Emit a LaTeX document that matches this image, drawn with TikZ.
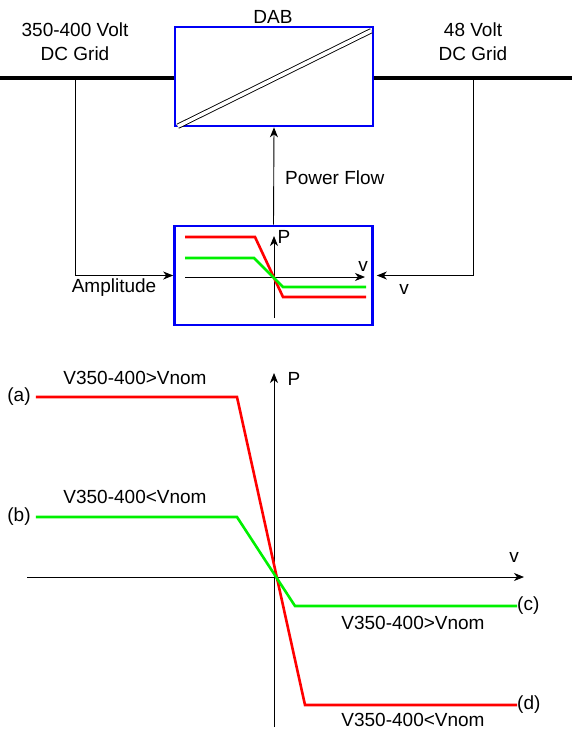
\documentclass[tikz,border=0pt]{standalone}
\usepackage{fontspec}
\setmainfont{Liberation Sans}
\usetikzlibrary{arrows.meta}
\definecolor{ctrlblue}{RGB}{0,0,245}
\definecolor{curvered}{RGB}{255,0,0}
\definecolor{curvegreen}{RGB}{0,240,0}

\begin{document}
\begin{tikzpicture}[
  every node/.style={font=\fontsize{19}{24}\selectfont,inner sep=0pt},
  blk/.style={draw=ctrlblue,line width=2.6pt,minimum width=198pt,minimum height=99pt},
  bus/.style={draw,line width=4pt},
  sig/.style={draw,line width=0.9pt},
  arr/.style={sig,-{Stealth[length=10pt,width=8pt,inset=3pt]}},
  rc/.style={draw=curvered,line width=2.6pt},
  gc/.style={draw=curvegreen,line width=2.6pt},
  x=1pt,y=-1pt]
\useasboundingbox (0,0) rectangle (572,731);

% ---- upper part: grids and converter ----
\node[blk] (dab)  at (274,76.5) {};
\node[blk] (ctrl) at (273.5,275.5) {};
\node (dabl)  at (273,17) {DAB};
\node[align=center] (gridL) at (75,42) {350-400 Volt\\DC Grid};
\node[align=center] (gridR) at (473,42) {48 Volt\\DC Grid};
\coordinate (busL) at (0,78);
\coordinate (busR) at (572,78);
\coordinate (tapL) at (75,78);
\coordinate (tapR) at (473,78);
\draw[bus] (busL) -- (busL -| dab.west);
\draw[bus] (busR -| dab.east) -- (busR);
\draw[sig,double,double distance=3.5pt]
  ([shift={(4,-1)}]dab.south west) -- ([shift={(-3,5)}]dab.north east);
\draw[arr] (tapL) |- (ctrl.west);
\draw[arr,shorten >=3pt] (tapR) |- (ctrl.east);
\draw[arr] (ctrl.north) -- (dab.south);
\node[anchor=west] (pflow) at (285,178) {Power Flow};
\node (ampl) at (114,288) {Amplitude};
\node (vin)  at (404,289) {v};

% ---- droop inside the controller ----
\coordinate (o1) at (274,277);
\draw[arr] (185,277) -- (365,277);
\draw[arr] (274,318) -- (274,236);
\node (p1) at (284,237) {P};
\node (v1) at (363,266) {v};
\draw[rc] (185,237) -- (255,237) -- (283,297) -- (366,297);
\draw[gc] (185,258) -- (254,258) -- (283,287) -- (366,287);

% ---- droop characteristic ----
\coordinate (o2) at (274,577);
\coordinate (vax) at (524,577);
\coordinate (pax) at (274,373);
\draw[arr] (27,577) -- (vax);
\draw[arr] (274,727) -- (pax);
\node (p2) at (294,379) {P};
\node (v2) at (514,557) {v};
\node (ca) at (19,397) {(a)};
\node (cb) at (19,517) {(b)};
\node[anchor=west] (cc) at (517,606) {(c)};
\node[anchor=west] (cd) at (517,705) {(d)};
\draw[rc] (ca.east) ++(5,0) -- (237,397) -- (305,705) -- (cd.west);
\draw[gc] (cb.east) ++(5,0) -- (237,517) -- (295,606) -- (cc.west);
\node (la) at (135,378) {V350-400>Vnom};
\node (lb) at (135,497) {V350-400<Vnom};
\node (lc) at (413,623) {V350-400>Vnom};
\node (ld) at (413,720) {V350-400<Vnom};
\end{tikzpicture}
\end{document}
